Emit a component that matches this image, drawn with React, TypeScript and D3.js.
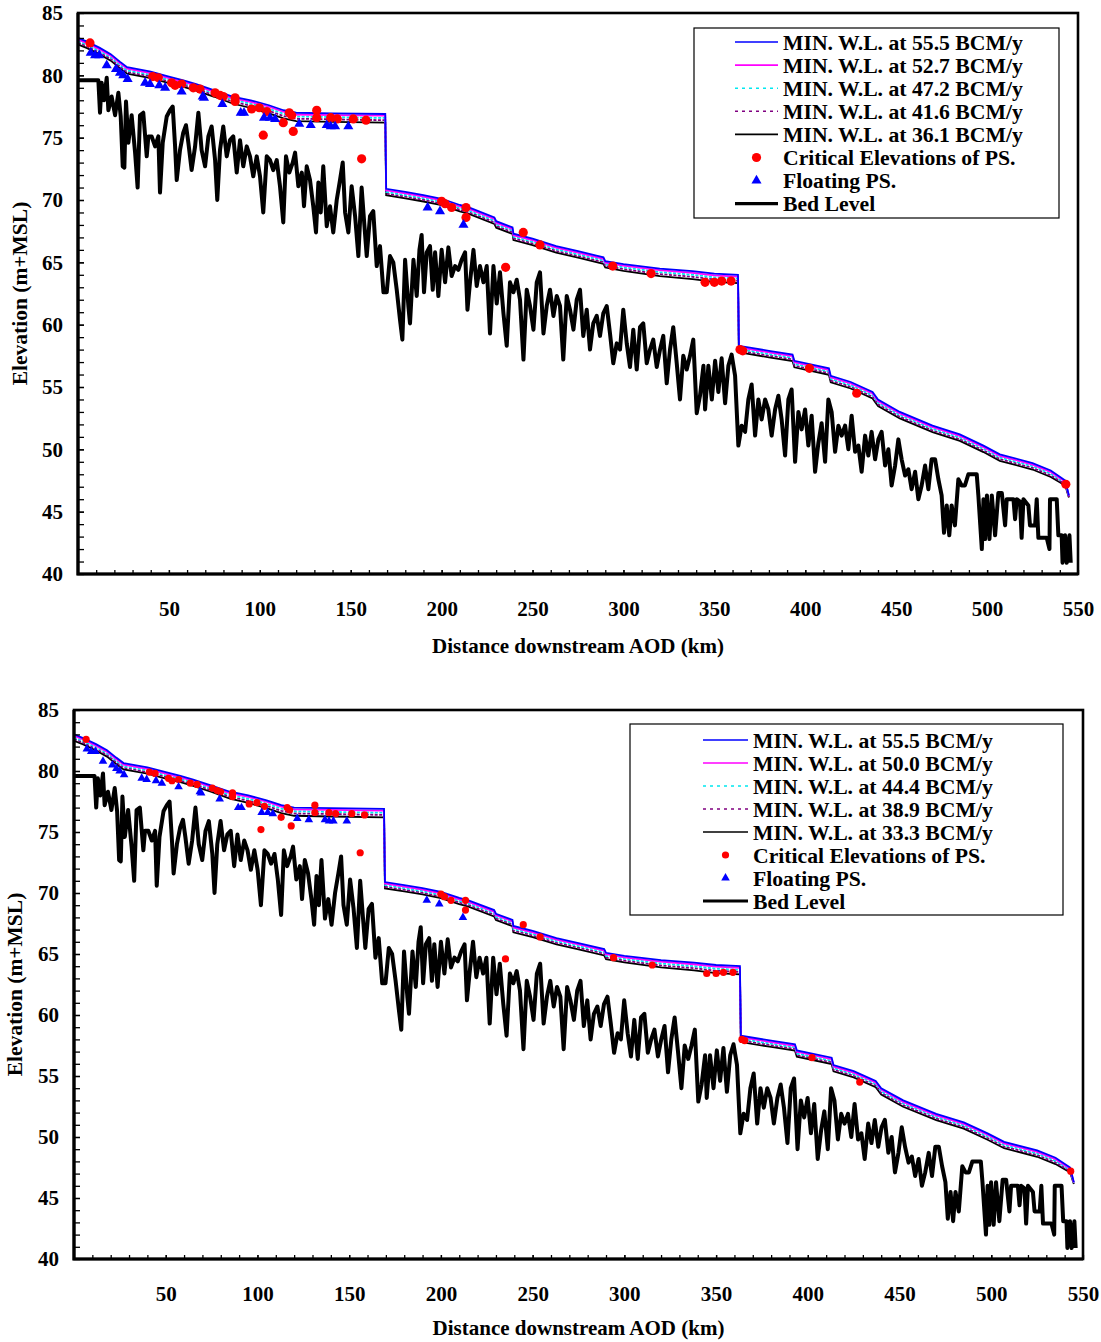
import { useEffect, useRef } from "react";
import * as d3 from "d3";

// Minimum water level profiles (km, elevation) - one array per discharge
const wlKm = [0, 5, 12, 18, 23, 27, 40, 50, 58, 65, 75, 85, 95, 105, 113, 120, 140, 169, 169.5, 180, 190, 200, 210, 215, 229, 230, 239, 239.5, 250, 263, 275, 289, 290, 300, 320, 338, 350, 363, 363.5, 380, 393, 394, 413, 414, 425, 437, 440, 452, 470, 485, 498, 507, 525, 535, 543, 545];
const wlS1 = [83.0, 82.7, 82.2, 81.7, 81.1, 80.65, 80.3, 79.9, 79.6, 79.3, 78.8, 78.3, 78.0, 77.6, 77.2, 77.0, 76.95, 76.9, 70.9, 70.65, 70.4, 70.1, 69.6, 69.4, 68.6, 68.3, 67.8, 67.3, 66.9, 66.3, 65.9, 65.4, 65.1, 64.85, 64.5, 64.3, 64.1, 64.0, 58.3, 57.9, 57.6, 57.1, 56.5, 55.9, 55.4, 54.6, 54.0, 53.0, 51.9, 51.2, 50.3, 49.6, 48.9, 48.3, 47.5, 46.3];
const wlS2 = [82.88, 82.58, 82.08, 81.58, 80.98, 80.53, 80.18, 79.78, 79.48, 79.18, 78.68, 78.18, 77.88, 77.48, 77.08, 76.86, 76.81, 76.76, 70.78, 70.53, 70.28, 69.98, 69.48, 69.28, 68.48, 68.18, 67.68, 67.18, 66.78, 66.18, 65.78, 65.28, 64.98, 64.73, 64.37, 64.16, 63.96, 63.86, 58.18, 57.78, 57.48, 56.98, 56.38, 55.78, 55.28, 54.48, 53.88, 52.88, 51.78, 51.08, 50.18, 49.48, 48.78, 48.18, 47.4, 46.26];
const wlS3 = [82.75, 82.45, 81.95, 81.45, 80.85, 80.4, 80.05, 79.65, 79.35, 79.05, 78.55, 78.05, 77.72, 77.32, 76.92, 76.7, 76.65, 76.58, 70.65, 70.4, 70.15, 69.85, 69.35, 69.15, 68.35, 68.05, 67.55, 67.05, 66.65, 66.05, 65.65, 65.15, 64.85, 64.6, 64.22, 64.0, 63.8, 63.7, 58.05, 57.65, 57.35, 56.85, 56.25, 55.65, 55.15, 54.35, 53.75, 52.75, 51.65, 50.95, 50.05, 49.35, 48.65, 48.05, 47.3, 46.22];
const wlS4 = [82.62, 82.32, 81.82, 81.32, 80.72, 80.27, 79.92, 79.52, 79.22, 78.92, 78.42, 77.9, 77.56, 77.14, 76.74, 76.52, 76.47, 76.4, 70.52, 70.27, 70.02, 69.72, 69.22, 69.02, 68.22, 67.92, 67.42, 66.92, 66.52, 65.92, 65.52, 65.02, 64.72, 64.46, 64.06, 63.84, 63.63, 63.53, 57.92, 57.52, 57.22, 56.72, 56.12, 55.52, 55.02, 54.22, 53.62, 52.62, 51.52, 50.82, 49.92, 49.22, 48.52, 47.92, 47.2, 46.18];
const wlS5 = [82.48, 82.18, 81.68, 81.18, 80.58, 80.13, 79.78, 79.38, 79.08, 78.78, 78.28, 77.74, 77.38, 76.95, 76.55, 76.33, 76.27, 76.2, 70.38, 70.13, 69.88, 69.58, 69.08, 68.88, 68.08, 67.78, 67.28, 66.78, 66.38, 65.78, 65.38, 64.88, 64.58, 64.32, 63.9, 63.66, 63.44, 63.34, 57.78, 57.38, 57.08, 56.58, 55.98, 55.38, 54.88, 54.08, 53.48, 52.48, 51.38, 50.68, 49.78, 49.08, 48.38, 47.78, 47.1, 46.14];

// Bed level
const bedKm = [0, 11.2, 12.1, 13, 14.3, 15.8, 16.7, 18.5, 20.4, 22.2, 23.5, 24.6, 25.5, 26.4, 27.7, 29.5, 31.4, 32.8, 34.1, 35.9, 37.8, 38.7, 40.5, 42.4, 44.2, 45.1, 46.6, 48.8, 50.6, 52.1, 53.4, 54.3, 56.1, 57.9, 59.4, 60.7, 62.5, 64.4, 66.2, 68.0, 69.9, 71.7, 73.5, 75.4, 76.6, 78.1, 79.9, 81.8, 83.6, 85.4, 87.3, 89.1, 90.9, 92.8, 94.6, 96.4, 98.3, 100.1, 101.9, 103.8, 105.6, 107.4, 109.3, 111.1, 112.9, 114.4, 116.2, 118.1, 119.4, 121.2, 123.1, 124.3, 125.8, 127.6, 129.4, 130.9, 132.2, 133.5, 134.9, 136.8, 138.6, 140.4, 142.3, 144.1, 145.6, 146.9, 148.7, 150.5, 152.4, 154.2, 156.0, 157.5, 158.8, 160.6, 162.4, 164.3, 166.1, 168.0, 169.8, 171.6,
  173.4, 175.3, 177.1, 178.4, 179.9, 181.7, 182.6, 184.5, 186.3, 187.8, 189.0, 190.3, 191.8, 193.6, 195.1, 196.4, 198.2, 200.0, 201.9, 203.7, 205.5, 207.4, 209.2, 211.0, 212.9, 214.2, 215.6, 217.5, 219.3, 221.1, 223.0, 224.8, 226.6, 228.5, 230.3, 232.1, 234.0, 235.8, 237.6, 239.5, 241.3, 243.1, 245.0, 246.8, 248.6, 250.5, 252.3, 254.1, 256.0, 257.8, 259.6, 261.5, 263.3, 265.1, 266.9, 268.8, 270.6, 272.5, 274.3, 276.1, 277.9, 279.8, 281.6, 283.4, 285.3, 287.1, 288.9, 290.8, 292.6, 294.4, 296.3, 298.1, 299.9, 301.8, 303.6, 305.4, 307.3, 309.1, 310.9, 312.8, 314.6, 316.4, 318.3, 320.1, 321.9, 323.8, 325.6, 327.4, 329.3, 331.1, 332.9, 334.8, 336.6, 338.4, 340.3,
  342.1, 344.0, 344.9, 346.7, 348.6, 350.4, 352.2, 354.0, 355.9, 357.7, 359.5, 361.4, 363.2, 365.0, 366.9, 368.7, 370.5, 372.4, 374.2, 376.0, 377.9, 379.7, 381.5, 383.4, 385.2, 387.0, 388.9, 390.7, 392.5, 394.4, 396.2, 398.0, 399.9, 401.7, 403.5, 405.4, 407.2, 409.0, 410.9, 412.7, 414.5, 416.4, 418.2, 420.0, 421.9, 423.7, 425.5, 427.4, 429.2, 431.0, 432.9, 434.7, 436.5, 438.4, 440.2, 442.0, 443.9, 445.7, 447.5, 449.4, 451.2, 453.0, 454.9, 456.7, 458.5, 460.4, 462.2, 464.0, 465.9, 467.7, 469.5, 471.4, 473.2, 475.0, 476.3, 477.8, 479.2, 480.5, 482.3, 484.2, 486.0, 487.8, 489.7, 494.3, 495.2, 497.1, 498.0, 498.9, 499.9, 501.3, 502.6, 504.4, 506.2, 508.1, 509.9, 510.8, 514.5, 515.4, 516.3, 518.1, 519.0, 520.0, 522.7, 523.6, 526.4, 527.3, 528.2, 532.8, 534.3, 534.6, 538.3, 539.2, 541.0, 541.5, 542.9, 543.8, 545.3, 546.0];
const bedElev = [79.6, 79.6, 77.0, 79.4, 78.0, 79.8, 77.2, 78.3, 76.8, 78.6, 76.7, 72.7, 72.6, 77.9, 74.6, 76.8, 73.8, 71.0, 76.8, 77.0, 73.5, 75.1, 75.1, 74.3, 75.1, 70.6, 74.6, 76.7, 77.2, 77.5, 74.3, 71.6, 74.0, 75.4, 76.0, 74.6, 72.4, 74.3, 77.0, 74.0, 72.7, 75.1, 75.9, 73.2, 70.0, 74.0, 75.9, 73.5, 74.8, 75.1, 72.2, 74.8, 72.7, 74.3, 73.5, 71.9, 73.5, 71.9, 69.0, 73.5, 73.2, 72.4, 73.2, 71.1, 68.2, 73.5, 72.2, 73.0, 73.8, 71.1, 72.2, 69.5, 72.7, 71.6, 69.5, 67.4, 71.4, 69.0, 72.7, 67.9, 69.5, 67.4, 70.0, 71.6, 73.0, 69.0, 67.4, 71.1, 68.7, 65.5, 71.0, 68.0, 65.5, 68.7, 69.1, 64.7, 66.3, 62.6, 62.6, 65.5,
  65.0, 62.8, 60.4, 58.8, 65.2, 61.5, 60.1, 65.2, 62.3, 66.0, 67.2, 62.6, 65.8, 66.3, 62.8, 65.8, 62.3, 66.0, 63.4, 66.2, 63.9, 64.7, 64.4, 65.2, 65.8, 61.2, 63.4, 66.0, 63.1, 64.7, 63.4, 64.7, 59.3, 64.7, 61.7, 64.2, 60.9, 58.3, 63.4, 62.6, 63.6, 62.0, 57.2, 62.8, 61.5, 59.6, 63.4, 64.2, 59.3, 61.5, 62.8, 60.7, 62.3, 61.5, 57.2, 62.3, 61.2, 59.6, 62.0, 62.8, 59.1, 61.2, 58.0, 60.1, 60.7, 59.1, 60.9, 61.5, 59.3, 56.9, 58.5, 58.0, 61.2, 58.5, 56.6, 59.6, 56.4, 59.8, 60.1, 56.9, 58.0, 58.8, 56.6, 58.0, 59.1, 55.3, 58.0, 59.8, 56.9, 54.0, 57.5, 56.4, 57.5, 58.8, 52.9,
  54.3, 56.7, 53.2, 56.7, 54.0, 57.1, 54.6, 57.3, 53.7, 56.7, 57.6, 55.9, 50.3, 51.9, 51.4, 54.0, 55.2, 51.1, 54.0, 52.4, 54.0, 53.2, 51.1, 53.2, 54.3, 52.4, 49.5, 54.0, 54.8, 49.0, 53.0, 51.6, 53.2, 50.3, 52.7, 48.2, 50.5, 52.1, 49.0, 54.0, 53.0, 49.8, 51.9, 51.1, 51.9, 50.0, 52.7, 49.8, 50.3, 48.2, 51.1, 49.5, 51.4, 49.2, 50.8, 51.4, 48.7, 50.0, 47.1, 48.7, 50.8, 49.2, 47.9, 48.4, 46.8, 48.2, 46.0, 47.1, 48.7, 46.8, 49.2, 49.2, 47.6, 46.3, 43.3, 45.5, 43.1, 45.5, 43.9, 47.6, 47.1, 47.1, 48.0, 48.0, 46.3, 42.0, 46.0, 42.8, 46.3, 42.8, 46.3, 43.1, 46.5, 46.5, 43.9, 46.0, 46.0, 44.4, 46.0, 45.8, 42.9, 46.0, 45.5, 43.9, 43.9, 46.0, 42.9, 42.9, 42.0, 46.0, 46.0, 43.1, 43.1, 40.9, 43.1, 40.9, 43.1, 40.9];

// Critical elevations of pump stations
const critKm = [6.6, 41.1, 44.2, 51.5, 53.4, 57.0, 63.4, 67.1, 75.4, 78.1, 79.9, 86.4, 86.4, 95.5, 99.7, 103.8, 101.9, 112.9, 116.2, 117.5, 118.4, 131.3, 131.3, 139.0, 142.6, 151.4, 158.4, 156.0, 200.0, 201.9, 205.5, 213.4, 213.4, 244.9, 254.1, 235.2, 294.1, 315.2, 344.9, 350.0, 354.0, 359.2, 364.1, 365.6, 402.3, 428.3, 543.3];
const critElev = [82.6, 79.9, 79.8, 79.4, 79.2, 79.3, 79.0, 78.9, 78.6, 78.4, 78.3, 78.2, 77.9, 77.3, 77.4, 77.1, 75.2, 76.2, 77.0, 76.8, 75.5, 77.2, 76.6, 76.6, 76.5, 76.5, 76.4, 73.3, 69.9, 69.7, 69.4, 69.4, 68.6, 67.4, 66.4, 64.6, 64.7, 64.1, 63.4, 63.4, 63.5, 63.5, 58.0, 57.9, 56.5, 54.5, 47.2];

// Floating pump stations
const floatKm = [7.0, 9.4, 11.7, 15.8, 20.9, 23.1, 24.9, 27.3, 36.9, 39.6, 44.7, 47.9, 57.0, 68.6, 69.3, 79.4, 89.5, 91.3, 102.3, 105.6, 108.4, 121.7, 128.0, 136.8, 139.0, 141.4, 148.7, 192.3, 199.1, 212.0];
const floatElev = [81.8, 81.6, 81.6, 80.8, 80.5, 80.2, 80.0, 79.7, 79.4, 79.3, 79.2, 79.0, 78.7, 78.3, 78.2, 77.7, 77.0, 77.0, 76.6, 76.6, 76.5, 76.1, 76.0, 76.0, 75.9, 75.9, 75.9, 69.4, 69.1, 68.0];

const xTicks = [50, 100, 150, 200, 250, 300, 350, 400, 450, 500, 550];
const yTicks = [40, 45, 50, 55, 60, 65, 70, 75, 80, 85];

const legendTop = ["MIN. W.L. at 55.5 BCM/y", "MIN. W.L. at 52.7 BCM/y", "MIN. W.L. at 47.2 BCM/y", "MIN. W.L. at 41.6 BCM/y", "MIN. W.L. at 36.1 BCM/y"];
const legendBottom = ["MIN. W.L. at 55.5 BCM/y", "MIN. W.L. at 50.0 BCM/y", "MIN. W.L. at 44.4 BCM/y", "MIN. W.L. at 38.9 BCM/y", "MIN. W.L. at 33.3 BCM/y"];

const FONT = "'Liberation Serif', 'Times New Roman', serif";
const wlSeries = [wlS1, wlS2, wlS3, wlS4, wlS5];
const wlStyle = [
  { color: "#0000ff", dash: null },
  { color: "#ff00ff", dash: null },
  { color: "#00e8f0", dash: "3,1.5" },
  { color: "#800080", dash: "3,1.5" },
  { color: "#000000", dash: null },
];

const panels = [
  { id: "a", left: 78, right: 1078, top: 13, bottom: 574, labelPad: 15, xTitleY: 653, yTitleX: 27, dotR: 4.6, triSize: 44,
    legend: { x: 694, y: 28, w: 365, h: 190, l0: 735, l1: 778, tx: 783, row0: 42, gap: 23.1 }, labels: legendTop },
  { id: "b", left: 74, right: 1083, top: 710, bottom: 1259, labelPad: 15, xTitleY: 1335, yTitleX: 22, dotR: 3.6, triSize: 32,
    legend: { x: 630, y: 724, w: 433, h: 191, l0: 703, l1: 748, tx: 753, row0: 740, gap: 23.0 }, labels: legendBottom },
];

const Panel = ({ cfg }) => {
  const ref = useRef(null);

  useEffect(() => {
    const g = d3.select(ref.current);
    g.selectAll("*").remove();

    const x = d3.scaleLinear().domain([0, 550]).range([cfg.left, cfg.right]);
    const y = d3.scaleLinear().domain([40, 85]).range([cfg.bottom, cfg.top]);
    const line = d3.line().x(d => x(d[0])).y(d => y(d[1]));

    const clipId = `clip-${cfg.id}`;
    g.append("clipPath").attr("id", clipId).append("rect")
      .attr("x", cfg.left).attr("y", cfg.top)
      .attr("width", cfg.right - cfg.left).attr("height", cfg.bottom - cfg.top);

    const plot = g.append("g").attr("clip-path", `url(#${clipId})`);

    // bed level
    plot.append("path")
      .datum(d3.zip(bedKm, bedElev))
      .attr("d", line)
      .attr("fill", "none")
      .attr("stroke", "#000")
      .attr("stroke-width", 4)
      .attr("stroke-linejoin", "round");

    // water levels, lowest first
    for (let i = wlSeries.length - 1; i >= 0; i--) {
      plot.append("path")
        .datum(d3.zip(wlKm, wlSeries[i]))
        .attr("d", line)
        .attr("fill", "none")
        .attr("stroke", wlStyle[i].color)
        .attr("stroke-width", 1.8)
        .attr("stroke-dasharray", wlStyle[i].dash);
    }

    // pump stations
    plot.selectAll(".crit")
      .data(d3.zip(critKm, critElev))
      .enter().append("circle")
      .attr("cx", d => x(d[0]))
      .attr("cy", d => y(d[1]))
      .attr("r", cfg.dotR)
      .attr("fill", "#ff0000");

    const tri = d3.symbol().type(d3.symbolTriangle).size(cfg.triSize);
    plot.selectAll(".float")
      .data(d3.zip(floatKm, floatElev))
      .enter().append("path")
      .attr("d", tri)
      .attr("transform", d => `translate(${x(d[0])},${y(d[1])})`)
      .attr("fill", "#0000ff");

    // axes (ticks inside)
    const xMinor = g.append("g").attr("transform", `translate(0,${cfg.bottom})`)
      .call(d3.axisBottom(x).tickValues(d3.range(10, 550, 10)).tickSize(-4).tickFormat(() => ""));
    xMinor.select(".domain").remove();

    const xAxis = g.append("g").attr("transform", `translate(0,${cfg.bottom})`)
      .call(d3.axisBottom(x).tickValues(xTicks).tickSize(-4).tickPadding(27));
    xAxis.select(".domain").remove();

    const yMinor = g.append("g").attr("transform", `translate(${cfg.left},0)`)
      .call(d3.axisLeft(y).tickValues(d3.range(41, 85, 1)).tickSize(-6).tickFormat(() => ""));
    yMinor.select(".domain").remove();

    const yAxis = g.append("g").attr("transform", `translate(${cfg.left},0)`)
      .call(d3.axisLeft(y).tickValues(yTicks).tickSize(-6).tickPadding(cfg.labelPad));
    yAxis.select(".domain").remove();

    g.selectAll(".tick line").attr("stroke", "#000").attr("stroke-width", 1.3);
    g.selectAll(".tick text")
      .attr("font-family", FONT)
      .attr("font-size", 21)
      .attr("font-weight", "bold")
      .attr("fill", "#000");

    // frame
    g.append("rect")
      .attr("x", cfg.left).attr("y", cfg.top)
      .attr("width", cfg.right - cfg.left).attr("height", cfg.bottom - cfg.top)
      .attr("fill", "none").attr("stroke", "#000").attr("stroke-width", 2.6);
    g.append("path")
      .attr("d", `M${cfg.left},${cfg.top}V${cfg.bottom}H${cfg.right}`)
      .attr("fill", "none").attr("stroke", "#000").attr("stroke-width", 3.2);

    // titles
    g.append("text")
      .attr("x", (cfg.left + cfg.right) / 2)
      .attr("y", cfg.xTitleY)
      .attr("text-anchor", "middle")
      .attr("font-family", FONT).attr("font-size", 21).attr("font-weight", "bold")
      .text("Distance downstream AOD (km)");
    g.append("text")
      .attr("transform", `translate(${cfg.yTitleX},${(cfg.top + cfg.bottom) / 2}) rotate(-90)`)
      .attr("text-anchor", "middle")
      .attr("font-family", FONT).attr("font-size", 21.5).attr("font-weight", "bold")
      .text("Elevation (m+MSL)");

    // legend
    const L = cfg.legend;
    const lg = g.append("g");
    lg.append("rect")
      .attr("x", L.x).attr("y", L.y).attr("width", L.w).attr("height", L.h)
      .attr("fill", "#fff").attr("stroke", "#000").attr("stroke-width", 1.2);

    const names = [...cfg.labels, "Critical Elevations of PS.", "Floating PS.", "Bed Level"];
    names.forEach((name, i) => {
      const cy = L.row0 + i * L.gap;
      const cx = (L.l0 + L.l1) / 2;
      if (i < 5) {
        lg.append("line")
          .attr("x1", L.l0).attr("x2", L.l1).attr("y1", cy).attr("y2", cy)
          .attr("stroke", wlStyle[i].color).attr("stroke-width", 1.6)
          .attr("stroke-dasharray", wlStyle[i].dash ? "3,4" : null);
      } else if (i === 5) {
        lg.append("circle").attr("cx", cx).attr("cy", cy).attr("r", cfg.dotR).attr("fill", "#ff0000");
      } else if (i === 6) {
        lg.append("path").attr("d", tri).attr("transform", `translate(${cx},${cy})`).attr("fill", "#0000ff");
      } else {
        lg.append("line")
          .attr("x1", L.l0).attr("x2", L.l1).attr("y1", cy).attr("y2", cy)
          .attr("stroke", "#000").attr("stroke-width", 3.2);
      }
      lg.append("text")
        .attr("x", L.tx).attr("y", cy + 7.5)
        .attr("font-family", FONT).attr("font-size", 21.7).attr("font-weight", "bold")
        .text(name);
    });
  }, [cfg]);

  return <g ref={ref}></g>;
};

export default function App() {
  return (
    <svg width={1101} height={1342} style={{ position: "absolute", left: 0, top: 0, background: "#fff" }}>
      <rect width={1101} height={1342} fill="#fff" />
      {panels.map(p => <Panel key={p.id} cfg={p} />)}
    </svg>
  );
}
